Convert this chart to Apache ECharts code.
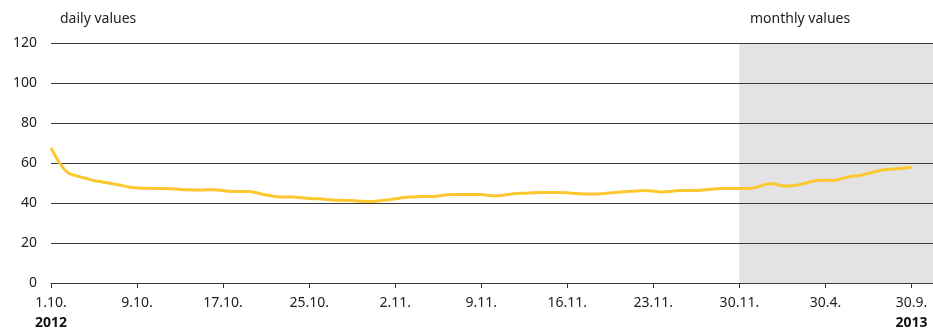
<!DOCTYPE html>
<html>
<head>
<meta charset="utf-8">
<script src="https://cdn.jsdelivr.net/npm/echarts@6/dist/echarts.min.js"></script>
<style>
  html, body { margin: 0; padding: 0; background: #fff; }
  #chart { width: 933px; height: 331px; }
</style>
</head>
<body>
<div id="chart"></div>
<script>
// tick labels, one per axis unit (8 daily steps, then 2 monthly steps)
const tickLabels = ['1.10.', '9.10.', '17.10.', '25.10.', '2.11.', '9.11.', '16.11.', '23.11.', '30.11.', '30.4.', '30.9.']
const yearLabels = { 0: '2012', 10: '2013' }

// curve, 10 samples per axis unit
const values = [
    67.5, 60, 55, 53.5, 52.4, 51.2, 50.5, 49.8, 49, 48,
    47.5, 47.4, 47.3, 47.3, 47.1, 46.8, 46.6, 46.5, 46.6, 46.6,
    46.2, 45.8, 45.8, 45.8, 45, 44, 43.3, 43, 43, 42.7,
    42.3, 42.1, 41.8, 41.4, 41.3, 41.2, 40.9, 40.7, 41, 41.5,
    42.1, 42.7, 43, 43.2, 43.2, 43.5, 44.1, 44.2, 44.2, 44.2,
    44.2, 43.7, 43.6, 44.2, 44.8, 44.9, 45.1, 45.2, 45.2, 45.2,
    45.1, 44.7, 44.5, 44.5, 44.6, 45.1, 45.4, 45.8, 46, 46.3,
    46, 45.5, 45.8, 46.2, 46.2, 46.3, 46.6, 47, 47.2, 47.3,
    47.3, 47.3, 47.8, 49.3, 49.6, 48.5, 48.6, 49.2, 50.3, 51.3,
    51.4, 51.3, 52.3, 53.4, 53.8, 54.8, 55.9, 56.7, 57, 57.4,
    57.8
]
const monthlyStart = 8   // 30.11. — monthly values from here on

const chart = echarts.init(document.getElementById('chart'))
const font = 'Noto Sans'

chart.setOption({
    animation: false,
    textStyle: { fontFamily: font },
    grid: { left: 51, right: 0, top: 43, bottom: 48, outerBoundsMode: 'none' },
    graphic: [
        { type: 'text', left: 60, top: 12, style: { text: 'daily values', font: '14px "Noto Sans"', fill: '#222' } },
        { type: 'text', left: 750, top: 12, style: { text: 'monthly values', font: '14px "Noto Sans"', fill: '#222' } },
    ],
    xAxis: {
        type: 'value',
        min: 0,
        max: 10.25,
        interval: 1,
        splitLine: { show: false },
        axisLine: { show: true, lineStyle: { color: '#333', width: 1 } },
        axisTick: {
            show: true,
            length: 5,
            customValues: tickLabels.map((_, i) => i),
            lineStyle: { color: '#333' },
        },
        axisLabel: {
            customValues: tickLabels.map((_, i) => i),
            formatter: (v) => {
                const label = tickLabels[v] || ''
                return yearLabels[v] ? label + '\n{b|' + yearLabels[v] + '}' : label
            },
            color: '#222',
            fontSize: 14,
            margin: 10,
            lineHeight: 20,
            rich: { b: { fontWeight: 'bold', fontSize: 14, color: '#111', lineHeight: 20 } },
        },
    },
    yAxis: {
        type: 'value',
        min: 0,
        max: 120,
        interval: 20,
        z: 2,
        axisLine: { show: false },
        axisTick: { show: false },
        axisLabel: { color: '#222', fontSize: 14, margin: 14 },
        splitLine: { lineStyle: { color: '#3a3a3a', width: 1 } },
    },
    series: [
        {
            type: 'line',
            z: 3,
            data: values.map((v, i) => [i / 10, v]),
            showSymbol: false,
            smooth: 0.3,
            lineStyle: { color: '#fdc82f', width: 3 },
            markArea: {
                silent: true,
                z: 1,
                itemStyle: { color: '#e3e3e3' },
                data: [[{ xAxis: monthlyStart, yAxis: 0 }, { xAxis: 10.25, yAxis: 120 }]],
            },
        },
    ],
})
</script>
</body>
</html>
